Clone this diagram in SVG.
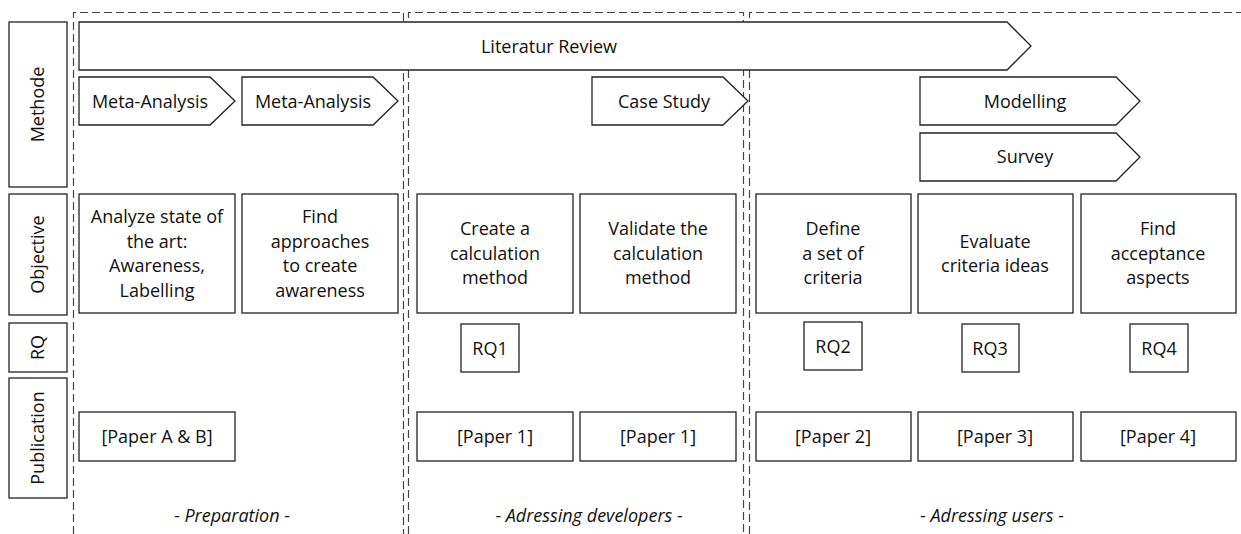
<svg xmlns="http://www.w3.org/2000/svg" width="1241" height="534" viewBox="0 0 1241 534">
<style>
.b{fill:#fff;stroke:#222;stroke-width:1.3}
.d{fill:none;stroke:#444;stroke-width:1.2;stroke-dasharray:8 4}
text{font-family:"Open Sans","Liberation Sans",Arial,sans-serif;font-size:18px;fill:#111;text-anchor:middle;dominant-baseline:central}
.i{font-style:italic}
</style>
<rect width="1241" height="534" fill="#fff"/>
<g id="connectors">
<path class="d" d="M73.5,534 V12.5 H403.5 V534"/>
<path class="d" d="M408.5,534 V12.5 H743.5 V534"/>
<path class="d" d="M749.5,534 V12.5 H1245"/>
</g>
<g id="labels">
<rect class="b" x="9" y="22" width="58" height="165"/>
<text transform="translate(37,104.5) rotate(-90)">Methode</text>
<rect class="b" x="9" y="194" width="58" height="121"/>
<text transform="translate(37,254.5) rotate(-90)">Objective</text>
<rect class="b" x="9" y="323" width="58" height="49"/>
<text transform="translate(37,347.5) rotate(-90)">RQ</text>
<rect class="b" x="9" y="378" width="58" height="120"/>
<text transform="translate(37,438) rotate(-90)">Publication</text>
</g>
<g id="literatur-review">
<path class="b" d="M79,22 H1007 L1031,46 L1007,70 H79 Z"/>
<text x="549" y="46">Literatur Review</text>
</g>
<g id="meta-analysis-1">
<path class="b" d="M79,77 H210 L235,101 L210,125 H79 Z"/>
<text x="150" y="101">Meta-Analysis</text>
</g>
<g id="meta-analysis-2">
<path class="b" d="M242,77 H373 L398,101 L373,125 H242 Z"/>
<text x="313" y="101">Meta-Analysis</text>
</g>
<g id="case-study">
<path class="b" d="M592,77 H723 L748,101 L723,125 H592 Z"/>
<text x="664" y="101">Case Study</text>
</g>
<g id="modelling">
<path class="b" d="M920,77 H1116 L1140,101 L1116,125 H920 Z"/>
<text x="1025" y="101">Modelling</text>
</g>
<g id="survey">
<path class="b" d="M920,133 H1116 L1140,157 L1116,181 H920 Z"/>
<text x="1025" y="156">Survey</text>
</g>
<g id="obj1">
<rect class="b" x="79" y="194" width="156" height="119"/>
<text x="157" y="216">Analyze state of</text>
<text x="157" y="241">the art:</text>
<text x="157" y="265">Awareness,</text>
<text x="157" y="290">Labelling</text>
</g>
<g id="obj2">
<rect class="b" x="242" y="194" width="156" height="119"/>
<text x="320" y="216">Find</text>
<text x="320" y="241">approaches</text>
<text x="320" y="265">to create</text>
<text x="320" y="290">awareness</text>
</g>
<g id="obj3">
<rect class="b" x="417" y="194" width="156" height="119"/>
<text x="495" y="228">Create a</text>
<text x="495" y="253">calculation</text>
<text x="495" y="277">method</text>
</g>
<g id="obj4">
<rect class="b" x="580" y="194" width="156" height="119"/>
<text x="658" y="228">Validate the</text>
<text x="658" y="253">calculation</text>
<text x="658" y="277">method</text>
</g>
<g id="obj5">
<rect class="b" x="756" y="194" width="155" height="119"/>
<text x="833" y="228">Define</text>
<text x="833" y="253">a set of</text>
<text x="833" y="277">criteria</text>
</g>
<g id="obj6">
<rect class="b" x="918" y="194" width="155" height="119"/>
<text x="995" y="241">Evaluate</text>
<text x="995" y="265">criteria ideas</text>
</g>
<g id="obj7">
<rect class="b" x="1081" y="194" width="155" height="119"/>
<text x="1158" y="228">Find</text>
<text x="1158" y="253">acceptance</text>
<text x="1158" y="277">aspects</text>
</g>
<g id="rq1">
<rect class="b" x="461" y="324" width="58" height="48"/>
<text x="490" y="348">RQ1</text>
</g>
<g id="rq2">
<rect class="b" x="804" y="322" width="58" height="48"/>
<text x="833" y="346">RQ2</text>
</g>
<g id="rq3">
<rect class="b" x="962" y="324" width="57" height="48"/>
<text x="990" y="348">RQ3</text>
</g>
<g id="rq4">
<rect class="b" x="1130" y="324" width="58" height="48"/>
<text x="1159" y="348">RQ4</text>
</g>
<g id="pubAB">
<rect class="b" x="79" y="412" width="156" height="49"/>
<text x="157" y="436">[Paper A &amp; B]</text>
</g>
<g id="pub1a">
<rect class="b" x="417" y="412" width="156" height="49"/>
<text x="495" y="436">[Paper 1]</text>
</g>
<g id="pub1b">
<rect class="b" x="580" y="412" width="156" height="49"/>
<text x="658" y="436">[Paper 1]</text>
</g>
<g id="pub2">
<rect class="b" x="756" y="412" width="155" height="49"/>
<text x="833" y="436">[Paper 2]</text>
</g>
<g id="pub3">
<rect class="b" x="918" y="412" width="155" height="49"/>
<text x="995" y="436">[Paper 3]</text>
</g>
<g id="pub4">
<rect class="b" x="1081" y="412" width="155" height="49"/>
<text x="1158" y="436">[Paper 4]</text>
</g>
<g id="phases">
<text class="i" x="232" y="515">- Preparation -</text>
<text class="i" x="589" y="515">- Adressing developers -</text>
<text class="i" x="992" y="515">- Adressing users -</text>
</g>
</svg>
